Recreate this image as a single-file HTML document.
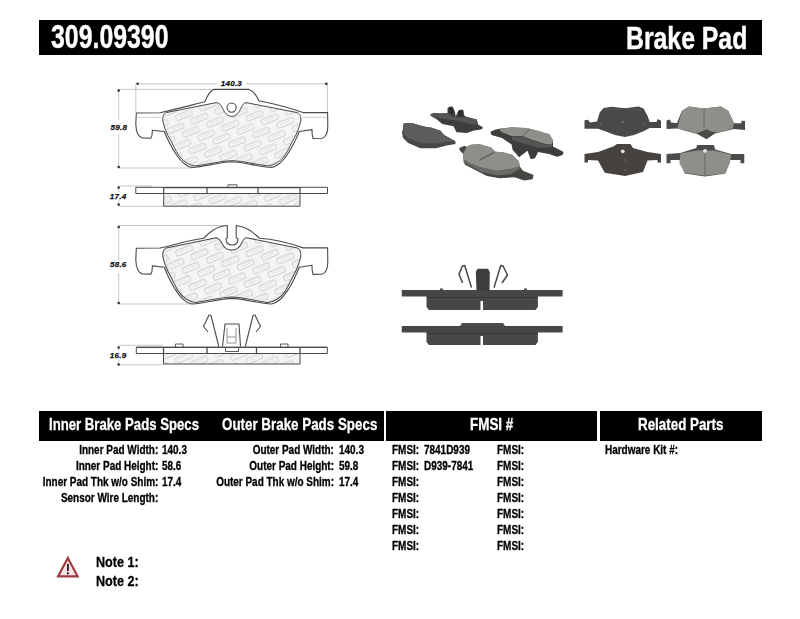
<!DOCTYPE html>
<html><head><meta charset="utf-8">
<style>
html,body{margin:0;padding:0;background:#fff;width:800px;height:619px;overflow:hidden;position:relative;font-family:"Liberation Sans",sans-serif;font-weight:bold;color:#111}
.abs{position:absolute;white-space:nowrap}
.bar{position:absolute;background:#000}
.t{position:absolute;white-space:nowrap;transform-origin:0 0;line-height:1}
.w{color:#fff;-webkit-text-stroke:0.3px #fff}
.dim{font-size:8px;font-style:italic;color:#111;letter-spacing:0.25px;-webkit-text-stroke:0.25px #111}
.r{font-size:12px;transform-origin:100% 0;transform:scaleX(0.83);-webkit-text-stroke:0.3px #000;color:#000}
.l{font-size:12px;transform:scaleX(0.83);-webkit-text-stroke:0.3px #000;color:#000}
</style></head><body>
<!-- header -->
<div class="bar" style="left:39px;top:20px;width:723px;height:35px"></div>
<div class="t w" id="h1" style="-webkit-text-stroke:0.45px #fff;left:50.5px;top:21px;font-size:32.5px;transform:scaleX(0.765)">309.09390</div>
<div class="t w" id="h2" style="-webkit-text-stroke:0.45px #fff;left:625.5px;top:22px;font-size:32px;transform:scaleX(0.775)">Brake Pad</div>

<!-- drawing -->
<svg class="abs" style="left:0;top:0" width="800" height="619" viewBox="0 0 800 619" fill="none" stroke-linejoin="round">
<defs>
<pattern id="logo" width="26" height="18" patternUnits="userSpaceOnUse" patternTransform="rotate(-22)">
<rect x="0" y="0" width="26" height="18" fill="#f4f4f4"/>
<rect x="2" y="2" width="17" height="5.5" rx="1.2" fill="none" stroke="#d0d0d0" stroke-width="1"/>
<path d="M5,4.7 h11" stroke="#e0e0e0" stroke-width="0.8"/>
<rect x="-11" y="11" width="17" height="5.5" rx="1.2" fill="none" stroke="#d0d0d0" stroke-width="1"/>
<rect x="15" y="11" width="17" height="5.5" rx="1.2" fill="none" stroke="#d0d0d0" stroke-width="1"/>
<path d="M18,13.7 h11 M-8,13.7 h11" stroke="#e0e0e0" stroke-width="0.8"/>
</pattern>
</defs>
<g stroke="#b8b8b8" stroke-width="0.8">
<path d="M137.5,83.8 H217 M246,83.8 H326.5"/>
<path d="M135.8,83.8 V112.5 M327.4,83.8 V112.5"/>
<path d="M118.7,89.4 H213 M118.7,168 H192"/>
<path d="M118.7,89.4 V120 M118.7,135 V168"/>
<path d="M118.7,186 H152 M118.7,206.2 H163.7 M118.7,187 V192 M118.7,200 V205"/>
<path d="M118.7,225.5 H226 M118.7,304 H193"/>
<path d="M118.7,226 V260 M118.7,273 V303.5"/>
<path d="M118.7,345.3 H163 M118.7,364.8 H163.5 M118.7,347.5 V351 M118.7,359.5 V364.5"/>
</g>
<g fill="#333" stroke="none">
<circle cx="137.6" cy="83.8" r="1.3"/>
<circle cx="326.3" cy="83.8" r="1.3"/>
<circle cx="118.7" cy="90.6" r="1.3"/>
<circle cx="118.7" cy="167" r="1.3"/>
<circle cx="118.7" cy="187.5" r="1.3"/>
<circle cx="118.7" cy="204.6" r="1.3"/>
<circle cx="118.7" cy="227" r="1.3"/>
<circle cx="118.7" cy="303" r="1.3"/>
<circle cx="118.7" cy="347.5" r="1.3"/>
<circle cx="118.7" cy="364.5" r="1.3"/>
</g>
<path d="M166.3,112.6 L216.3,102.6 C219.5,103 221,105 222.3,107.5 C224.5,113 227.5,116.3 231.7,116.3 C236,116.3 239,113 241.2,107.5 C242.5,105 243.5,103 246,102.6 L246,102.6 L297.3,112.6 C300,113.8 301,116 300.8,120.8 C300,124 299,127.5 297.9,130.5 C296.5,134 295,137 293,140.2 C290.5,145 288,150.5 285.3,154.8 C283,158 280.5,160.5 277.5,162.5 C274.5,164.5 271,165.6 267.8,165.9 C256,164.5 243,161 231.8,160.6 C220.5,161 207.5,164.5 195.8,165.9 C192.5,165.6 189,164.5 186.1,162.5 C183,160.5 180.5,158 178.3,154.8 C175.5,150.5 173,145 170.6,140.2 C168.5,137 167,134 165.7,130.5 C164.5,127.5 163.5,124 162.8,120.8 C162.6,116 163.5,113.8 166.3,112.6 Z" fill="url(#logo)" stroke="#4a4a4a" stroke-width="1"/>
<path d="M136.3,113 L160,112.7 C175,109.5 190,105.5 205,101.8 C206.5,97.5 208.5,92 213.5,89.4 L249,89.4 C254.5,91.5 256.5,96 258.8,100.8 C275,104 290,108 303,112.6 L327.6,112.6 L327.8,127 C327.6,133 326.5,137 322,138.3 L313.2,138.5 C312,136 312,132 312,129.6 L299.3,131.5 C297,137 295.5,140 294,143.1 C291.5,148 289.5,151.5 287.2,154.8 C284.5,158.5 282,161.5 279.5,163.5 C277,165.5 274.5,167 271.7,167.4 C258,166.6 245,162.3 231.8,161.8 C218.5,162.3 205.5,166.6 191.9,167.4 C189,167 186.5,165.5 184.1,163.5 C181.5,161.5 179,158.5 176.4,154.8 C174,151.5 172,148 169.6,143.1 C168,140 166.5,137 164.3,131.5 L152.4,130.2 C152,133 152.6,136.5 150.8,138.2 L142.5,137.9 C138,137 136,132 135.8,124 Z" stroke="#4a4a4a" stroke-width="1.1"/>
<path d="M137.5,117.3 H161 M302,117.3 H326.5" stroke="#c4c4c4" stroke-width="0.8"/>
<circle cx="231.6" cy="107.6" r="4.6" fill="#fff" stroke="#4a4a4a" stroke-width="1.1"/>
<g transform="translate(0,248.3) scale(1,1.025) translate(0,-113)">
<path d="M166.3,112.6 L216.3,102.6 C219.5,103.5 221,106 222.5,109 C224.5,113 227.5,114.7 231.7,114.7 C236,114.7 239,113 241,109 C242.5,106 243.5,103.5 246,102.6 L246,102.6 L297.3,112.6 C300,113.8 301,116 300.8,120.8 C300,124 299,127.5 297.9,130.5 C296.5,134 295,137 293,140.2 C290.5,145 288,150.5 285.3,154.8 C283,158 280.5,160.5 277.5,162.5 C274.5,164.5 271,165.6 267.8,165.9 C256,164.5 243,161 231.8,160.6 C220.5,161 207.5,164.5 195.8,165.9 C192.5,165.6 189,164.5 186.1,162.5 C183,160.5 180.5,158 178.3,154.8 C175.5,150.5 173,145 170.6,140.2 C168.5,137 167,134 165.7,130.5 C164.5,127.5 163.5,124 162.8,120.8 C162.6,116 163.5,113.8 166.3,112.6 Z" fill="url(#logo)" stroke="#4a4a4a" stroke-width="1"/>
<path d="M136.3,113 L160,112.7 C172,110.5 186,105.5 203.75,103.2 C208,99 214,92 227.3,90.8 L227.3,102.9 L226,103.4 C226,107.5 228.5,109.8 232,109.8 C235.5,109.8 238,107.5 238,103.4 L236.2,102.9 L236.2,90.8 C248,92 254,98.5 259.5,103.2 C275,104 290,108 303,112.6 L327.6,112.6 L327.8,127 C327.6,133 326.5,137 322,138.3 L313.2,138.5 C312,136 312,132 312,129.6 L299.3,131.5 C297,137 295.5,140 294,143.1 C291.5,148 289.5,151.5 287.2,154.8 C284.5,158.5 282,161.5 279.5,163.5 C277,165.5 274.5,167 271.7,167.4 C258,166.6 245,162.3 231.8,161.8 C218.5,162.3 205.5,166.6 191.9,167.4 C189,167 186.5,165.5 184.1,163.5 C181.5,161.5 179,158.5 176.4,154.8 C174,151.5 172,148 169.6,143.1 C168,140 166.5,137 164.3,131.5 L152.4,130.2 C152,133 152.6,136.5 150.8,138.2 L142.5,137.9 C138,137 136,132 135.8,124 Z" stroke="#4a4a4a" stroke-width="1.1"/>
</g>
<rect x="163.7" y="193.5" width="136.3" height="12.7" fill="url(#logo)" stroke="#4a4a4a" stroke-width="1"/>
<rect x="135.8" y="187.3" width="191.7" height="6.2" fill="#fff" stroke="#4a4a4a" stroke-width="1"/>
<path d="M163.7,187.6 H300 M163.7,187.3 V193.5 M207,187.3 V193.5 M258,187.3 V193.5 M300,187.3 V193.5" stroke="#4a4a4a" stroke-width="1.2"/>
<path d="M228,187.2 V184.8 H237 V187.2" stroke="#4a4a4a" stroke-width="0.9"/>
<rect x="163.5" y="353.5" width="136.5" height="10.5" fill="url(#logo)" stroke="#4a4a4a" stroke-width="1"/>
<rect x="136.3" y="347.3" width="191" height="6.2" fill="#fff" stroke="#4a4a4a" stroke-width="1"/>
<path d="M136.3,347.3 H327.3 M163.5,347.3 V353.5 M207,347.3 V353.5 M256.5,347.3 V353.5 M300,347.3 V353.5" stroke="#4a4a4a" stroke-width="1.3"/>
<path d="M175.5,347.2 V344 H183 V347.2 M280.5,347.2 V344 H288 V347.2" stroke="#4a4a4a" stroke-width="0.9"/>
<path d="M225.5,347.5 V351.5 H238.5 V347.5" stroke="#4a4a4a" stroke-width="0.9"/>
<path d="M208,332 L203.5,326.5 L209,315 L211,315.5 L218.8,346.5" stroke="#4a4a4a" stroke-width="1.1"/>
<path d="M256,332 L260.5,326.5 L255,315 L253,315.5 L245.3,346.5" stroke="#4a4a4a" stroke-width="1.1"/>
<path d="M222.5,346.5 L225,324 H239 L240.5,346.5" stroke="#4a4a4a" stroke-width="1.1"/>
<path d="M227,328 V343 H236 V328 M227,337 H236" stroke="#888" stroke-width="0.9"/>
</svg>
<div class="t dim" style="left:220.8px;top:79.6px">140.3</div>
<div class="t dim" style="left:110.6px;top:124.1px">59.8</div>
<div class="t dim" style="left:109.8px;top:193.1px">17.4</div>
<div class="t dim" style="left:110px;top:261.3px">58.6</div>
<div class="t dim" style="left:109.8px;top:352.3px">16.9</div>

<!-- /drawing -->
<!-- photos -->
<svg class="abs" style="left:0;top:0" width="800" height="619" viewBox="0 0 800 619" stroke-linejoin="round">
<defs><filter id="bl" x="-5%" y="-5%" width="110%" height="110%"><feGaussianBlur stdDeviation="0.4"/></filter></defs>
<g filter="url(#bl)">
<path d="M403.3,123.75 L406.4,122.9 L412.5,123.3 L423.9,126.4 L431.75,127.7 L440.5,130.75 L444,135.1 L455.4,141.25 L455.4,143.9 L446.6,145.6 L436.1,148.25 L420.4,148.25 L408.1,143 L402.9,137.75 L402,131.6 L403.75,128.1 Z" fill="#474645" />
<path d="M403.3,123.75 L406.4,122.9 L412.5,123.3 L423.9,126.4 L431.75,127.7 L440.5,130.75 L444,135.1 L455.4,141.25 L447,141.8 L436,143.5 L420.4,143 L408.1,138.5 L403.5,133 L403,128 Z" fill="#5c5b5a" />
<path d="M430.25,114.25 L434,113.1 L440,113.5 L447.5,113.1 L447.5,108.25 L449.75,106.4 L452.75,106.75 L455,112 L455.75,116.5 L458,111.25 L459.5,109.75 L463.25,109.75 L464,115 L465.5,116.5 L476.75,119.5 L478.25,124.75 L482.75,127 L482,129.25 L473,130.75 L467,133 L456.5,132.25 L453.5,126.25 L442.25,124 L437,119.5 L431,116.1 Z" fill="#3f3e3c" />
<path d="M430.25,114.25 L434,113.1 L440,113.5 L447.5,113.1 L452,117 L466,117.5 L476.75,119.5 L478.25,124.75 L470,124 L458,121 L442,118.5 L431,116.1 Z" fill="#575553" />
<path d="M448.5,109 L450,107.2 L452.5,107.5 L454,111 L452,114 L449,113 Z" fill="#2e2d2c" />
<path d="M458.5,111.5 L460,110.3 L463,110.5 L463.5,114 L461,117 L458.5,116 Z" fill="#2e2d2c" />
<path d="M459.25,148 L464.6,145.8 L466.7,146.9 L471,144.8 L479.4,144.25 L491,147.4 L495.4,151.7 L502.8,152.2 L512.4,154.9 L518.8,161.25 L519.8,166.6 L523,170.8 L533.6,175 L532.6,179.3 L524,180.4 L514.5,177.2 L499.6,178.25 L486.9,176.1 L464.6,164.4 L463.5,159.1 L463,153.8 L459.8,150.6 Z" fill="#464543" />
<path d="M463.5,159.1 L481.6,167.6 L497.5,170.8 L511.3,168.7 L519.8,166.6 L519.8,168.7 L511.3,174 L497.5,175.6 L481.6,171.9 L463.5,162.3 Z" fill="#6a6b68" />
<path d="M466.7,146.9 L471,144.8 L479.4,144.25 L491,147.4 L495.4,151.7 L502.8,152.2 L512.4,154.9 L518.8,161.25 L519.8,166.6 L511.3,168.7 L497.5,170.8 L481.6,167.6 L471,163.4 L463.5,159.1 L463,153.8 Z" fill="#8d9089" />
<path d="M479.4,160.2 L494.3,152.2" stroke="#575954" stroke-width="1.3" fill="none"/>
<path d="M490.3,131.7 L495.6,129.6 L501,128.5 L512.6,127.4 L527.5,128.5 L540.3,131.7 L548.8,134.9 L553,140.2 L553,146.6 L559.4,149.75 L563.6,151.9 L562.6,155 L557.3,156.7 L548.8,154 L538.1,151.9 L535,158.25 L530.7,159.3 L527.5,150.8 L523.3,154 L519,157.2 L512.6,149.75 L511.6,144.4 L502,138 L491.4,134.9 Z" fill="#3e3d3b" />
<path d="M499.9,129 L511.6,126.9 L527.5,128 L540.3,131.2 L549.8,134.3 L553,140.2 L552,144.4 L545.6,143.9 L531.75,139.7 L522.2,135.9 L511.6,135.9 L501,131.7 Z" fill="#8d9089" />
<path d="M522.2,135.9 L529.6,129.6" stroke="#5e605c" stroke-width="0.9" fill="none"/>
<path d="M512,136.5 L522,136.5 L531.5,140.5 L545,144.5 L552,145 L552,147 L540,148 L525,144 L512,140 Z" fill="#575654" />
<path d="M584.5,120.25 L588,119.7 L590,122.5 L597,121.4 L599.7,112.4 L603.6,107.9 L611.5,106.75 L625,108.2 L638.5,106.5 L643.6,108.4 L647.5,115.75 L649.75,122 L656.5,122 L657.6,119.1 L661,120.8 L661,128.1 L649.75,128.1 L643,131.5 L634,134.9 L625,137.1 L614.9,134.9 L605.9,131.5 L598,128.7 L584.5,128.7 Z" fill="#4a4947" />
<circle cx="622.5" cy="122" r="1.3" fill="#6a6a6a"/><circle cx="601" cy="123.5" r="1.2" fill="#606060"/><circle cx="644" cy="123.5" r="1.2" fill="#606060"/>
<path d="M604,110 C615,108.5 632,108.5 642,110" stroke="#5a5958" stroke-width="0.9" fill="none"/>
<path d="M666.5,120.4 L670,119.5 L671,122.5 L677,123 L681.8,111 L689,106.6 L703.6,108.4 L721,106.6 L728.3,111 L734,123.3 L741.4,123.3 L741.4,120.8 L745,121 L745,130 L734,129 L715,133.5 L706.5,139.3 L697.8,134.2 L677.4,128.4 L666.5,129 Z" fill="#4d4c4a" />
<path d="M677.4,128.4 L681.8,111 L689,106.6 L703.6,108.4 L721,106.6 L728.3,111 L734,123.3 L732.7,128.4 L718.1,132.8 L710.9,131.3 L706.5,129.2 L702.2,131.3 L696.3,133.5 L686.2,130.6 Z" fill="#8d9089" />
<path d="M704,109 V128" stroke="#60625e" stroke-width="1" fill="none"/>
<path d="M584.5,154.1 L598,151.9 L613.75,146.25 L617,144 L630.6,144 L632.9,148 L647.5,151.9 L661,154.1 L661,162.6 L657.5,162.6 L657.5,160 L647.5,160.5 L643,172.1 L625,176 L604.75,172.7 L598,160.5 L588,160 L588,162.6 L584.5,162.6 Z" fill="#454341" />
<circle cx="622.75" cy="151.3" r="1.9" fill="#e0e0e0"/>
<circle cx="625" cy="160" r="1.2" fill="#5a5a5a"/><circle cx="625" cy="170" r="1.2" fill="#5a5a5a"/>
<path d="M666.5,153.9 L680.3,153.1 L696.3,148 L697,145.1 L713.8,145.1 L715.2,149.5 L731.2,153.9 L744.3,153.9 L744.3,163.3 L740.5,163.3 L740.5,160 L730,160 L725.4,173.5 L705,176.4 L684.7,173.5 L679.5,160 L670.5,160 L670.5,163.3 L666.5,163.3 Z" fill="#4d4c4a" />
<path d="M680.3,153.6 L696.3,150.5 L713.8,150.5 L731.2,154.5 L729.8,163.3 L725.4,173 L705,175.8 L684.7,173 L679.5,163.3 Z" fill="#8d9089" />
<circle cx="705" cy="150.8" r="1.9" fill="#e8e8e8"/><path d="M705,154 V175.5" stroke="#60625e" stroke-width="1" fill="none"/>
<path d="M401.75,290 L426.5,289.9 L537.9,289.9 L562.6,290 L562.6,296.6 L537.9,296.6 L537.9,307 L535.5,310.1 L483,310.1 L483,301 L480.5,301 L480.5,310.1 L429,310.1 L426.5,307 L426.5,296.6 L401.75,296.6 Z" fill="#484745" />
<path d="M427,297.5 H537.5" stroke="#393836" stroke-width="1" fill="none"/>
<path d="M476.5,291 L475.8,272 L477.5,268.8 L488,268.8 L489.8,272 L489.5,291 Z" fill="#3d3c3a" />
<path d="M440,290 L440,288.5 L443,288.5 L443,290 Z" fill="#484745" />
<path d="M524,290 L524,288.5 L527,288.5 L527,290 Z" fill="#484745" />
<path d="M471.5,287.6 L464.75,265.5 L462.5,266 L459,274 L462.5,283 M494,287.6 L500.75,265.5 L503,266 L507.5,275 L502,283" stroke="#444" stroke-width="1.5" fill="none"/>
<path d="M401.75,325.9 L537.9,325.9 L562.6,325.9 L562.6,332.6 L537.9,332.6 L537.9,342 L535.5,345 L483,345 L483,336 L480.5,336 L480.5,345 L429,345 L426.5,342 L426.5,332.6 L401.75,332.6 Z" fill="#484745" />
<path d="M427,333.5 H537.5" stroke="#393836" stroke-width="1" fill="none"/>
<path d="M460,326 L462,323 L503,323 L505,326 Z" fill="#4e4d4b" />
</g></svg>

<!-- /photos -->
<!-- table headers -->
<div class="bar" style="left:39px;top:410.5px;width:344.5px;height:30px"></div>
<div class="bar" style="left:386px;top:410.5px;width:211px;height:30px"></div>
<div class="bar" style="left:600px;top:410.5px;width:162px;height:30px"></div>
<div class="t w" id="th1" style="left:48.8px;top:416px;font-size:17px;transform:scaleX(0.7741)">Inner Brake Pads Specs</div>
<div class="t w" id="th2" style="left:221.6px;top:416px;font-size:17px;transform:scaleX(0.7865)">Outer Brake Pads Specs</div>
<div class="t w" id="th3" style="left:470px;top:416px;font-size:17px;transform:scaleX(0.7906)">FMSI #</div>
<div class="t w" id="th4" style="left:638px;top:416px;font-size:17px;transform:scaleX(0.7865)">Related Parts</div>

<!-- body rows -->
<div class="t r"  style="right:642px;top:444px">Inner Pad Width:</div>
<div class="t l"  style="left:162px;top:444px">140.3</div>
<div class="t r"  style="right:642px;top:460px">Inner Pad Height:</div>
<div class="t l"  style="left:162px;top:460px">58.6</div>
<div class="t r"  style="right:642px;top:476px">Inner Pad Thk w/o Shim:</div>
<div class="t l"  style="left:162px;top:476px">17.4</div>
<div class="t r"  style="right:642px;top:492px">Sensor Wire Length:</div>
<div class="t r"  style="right:466px;top:444px">Outer Pad Width:</div>
<div class="t l"  style="left:338.5px;top:444px">140.3</div>
<div class="t r"  style="right:466px;top:460px">Outer Pad Height:</div>
<div class="t l"  style="left:338.5px;top:460px">59.8</div>
<div class="t r"  style="right:466px;top:476px">Outer Pad Thk w/o Shim:</div>
<div class="t l"  style="left:338.5px;top:476px">17.4</div>
<div class="t l"  style="left:392px;top:444px">FMSI:</div>
<div class="t l"  style="left:423.5px;top:444px">7841D939</div>
<div class="t l"  style="left:496.5px;top:444px">FMSI:</div>
<div class="t l"  style="left:392px;top:460px">FMSI:</div>
<div class="t l"  style="left:423.5px;top:460px">D939-7841</div>
<div class="t l"  style="left:496.5px;top:460px">FMSI:</div>
<div class="t l"  style="left:392px;top:476px">FMSI:</div>
<div class="t l"  style="left:496.5px;top:476px">FMSI:</div>
<div class="t l"  style="left:392px;top:492px">FMSI:</div>
<div class="t l"  style="left:496.5px;top:492px">FMSI:</div>
<div class="t l"  style="left:392px;top:508px">FMSI:</div>
<div class="t l"  style="left:496.5px;top:508px">FMSI:</div>
<div class="t l"  style="left:392px;top:524px">FMSI:</div>
<div class="t l"  style="left:496.5px;top:524px">FMSI:</div>
<div class="t l"  style="left:392px;top:540px">FMSI:</div>
<div class="t l"  style="left:496.5px;top:540px">FMSI:</div>
<div class="t l"  style="left:604.5px;top:444px">Hardware Kit #:</div>
<!-- notes -->
<svg class="abs" style="left:0;top:0" width="800" height="619" viewBox="0 0 800 619">
<polygon points="67.85,558 58.1,576.3 77.6,576.3" fill="#f6e2e2" stroke="#a03a40" stroke-width="2.2" stroke-linejoin="miter"/>
<rect x="67" y="564" width="1.8" height="7" fill="#1e1a1a"/>
<rect x="67" y="572.3" width="1.8" height="2.1" fill="#1e1a1a"/>
</svg>
<div class="t" id="n1" style="-webkit-text-stroke:0.3px #000;color:#000;left:95.5px;top:553.8px;font-size:15px;transform:scaleX(0.84)">Note 1:</div>
<div class="t" id="n2" style="-webkit-text-stroke:0.3px #000;color:#000;left:95.5px;top:572.8px;font-size:15px;transform:scaleX(0.84)">Note 2:</div>
</body></html>
